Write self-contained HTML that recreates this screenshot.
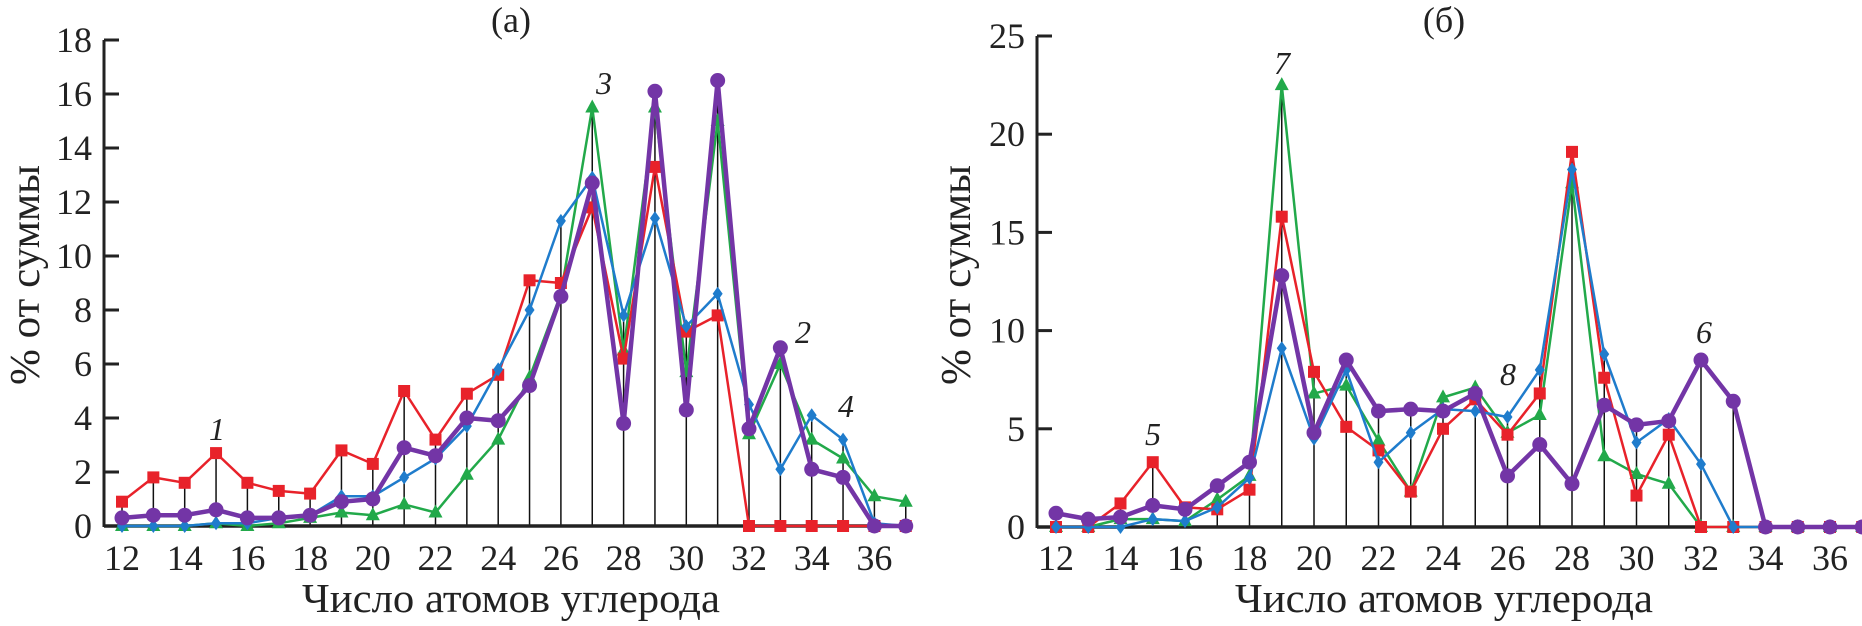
<!DOCTYPE html>
<html><head><meta charset="utf-8"><style>
html,body{margin:0;padding:0;background:#fff;}
svg{display:block;font-family:"Liberation Serif",serif;}
</style></head><body>
<svg id="chart" width="1862" height="626" viewBox="0 0 1862 626" xmlns="http://www.w3.org/2000/svg"></svg>
<script>
const categories = [12,13,14,15,16,17,18,19,20,21,22,23,24,25,26,27,28,29,30,31,32,33,34,35,36,37];
const xTicks = [12,14,16,18,20,22,24,26,28,30,32,34,36];
const aTicks = [0,2,4,6,8,10,12,14,16,18];
const bTicks = [0,5,10,15,20,25];
const aRed = [0.9,1.8,1.6,2.7,1.6,1.3,1.2,2.8,2.3,5.0,3.2,4.9,5.6,9.1,9.0,11.8,6.2,13.3,7.2,7.8,0,0,0,0,0,0];
const aGreen = [0,0,0,0.1,0,0.1,0.3,0.5,0.4,0.8,0.5,1.9,3.2,5.5,8.6,15.5,6.5,15.5,5.7,15.0,3.4,6.0,3.2,2.5,1.1,0.9];
const aBlue = [0,0,0,0.1,0.1,0.3,0.4,1.1,1.1,1.8,2.5,3.7,5.8,8.0,11.3,12.9,7.8,11.4,7.4,8.6,4.5,2.1,4.1,3.2,0.1,0];
const aPurple = [0.3,0.4,0.4,0.6,0.3,0.3,0.4,0.9,1.0,2.9,2.6,4.0,3.9,5.2,8.5,12.7,3.8,16.1,4.3,16.5,3.6,6.6,2.1,1.8,0,0];
const bRed = [0,0,1.2,3.3,1.0,0.9,1.9,15.8,7.9,5.1,3.9,1.8,5.0,6.5,4.7,6.8,19.1,7.6,1.6,4.7,0,0,0,0,0,0];
const bGreen = [0,0,0.4,0.4,0.3,1.4,2.6,22.5,6.8,7.2,4.4,1.8,6.6,7.1,4.8,5.7,17.5,3.6,2.7,2.2,0,0,0,0,0,0];
const bBlue = [0,0,0,0.4,0.3,1.0,2.5,9.1,4.5,8.0,3.3,4.8,6.0,5.9,5.6,8.0,18.2,8.8,4.3,5.5,3.2,0,0,0,0,0];
const bPurple = [0.7,0.4,0.5,1.1,0.9,2.1,3.3,12.8,4.8,8.5,5.9,6.0,5.9,6.8,2.6,4.2,2.2,6.2,5.2,5.4,8.5,6.4,0,0,0,0];

const NS="http://www.w3.org/2000/svg";
const svg=document.getElementById('chart');
function mk(tag,attrs,parent){const e=document.createElementNS(NS,tag);for(const k in attrs)e.setAttribute(k,attrs[k]);(parent||svg).appendChild(e);return e;}

function panel(cfg){
  const g=mk('g',{});
  
  
  const X=v=>cfg.x0+(v-12)*cfg.dx;
  const Y=v=>cfg.y0-v*cfg.dy;
  const ymax=cfg.ticks[cfg.ticks.length-1];
  categories.forEach((c,i)=>{
    const m=Math.max(cfg.series[0][i],cfg.series[1][i],cfg.series[2][i],cfg.series[3][i]);
    if(m>0){const l=mk('line',{x1:X(c),x2:X(c),y1:Y(0),y2:Y(m),stroke:'#111','stroke-width':1.5},g);
    
    }
  });
  const ax=mk('line',{x1:cfg.ax,x2:cfg.ax,y1:Y(ymax),y2:Y(0)+1,stroke:'#222','stroke-width':3},g);
  
  
  cfg.ticks.forEach(t=>{
    mk('line',{x1:cfg.ax,x2:cfg.ax+15,y1:Y(t),y2:Y(t),stroke:'#222','stroke-width':3},g);
    const tx=mk('text',{x:cfg.ax-12,y:Y(t)+12,'text-anchor':'end','font-size':36,fill:'#222'},g);
    tx.textContent=t;
    
    
  });
  xTicks.forEach(t=>{
    const tx=mk('text',{x:X(t),y:570,'text-anchor':'middle','font-size':36,fill:'#222'},g);
    tx.textContent=t;
    
    
  });
  const bl=mk('line',{x1:cfg.ax,x2:cfg.xend,y1:Y(0),y2:Y(0),stroke:'#222','stroke-width':3.5},g);
  
  
  const colors=['#e8222a','#22a94a','#1f7ccc','#7335a6'];
  const widths=[2.5,2.5,2.5,4.5];
  const names=['series-red','series-green','series-blue','series-purple'];
  const order=[1,0,2,3];
  order.forEach(si=>{
    const vals=cfg.series[si];
    const pts=categories.map((c,i)=>X(c)+','+Y(vals[i])).join(' ');
    const pl=mk('polyline',{points:pts,fill:'none',stroke:colors[si],'stroke-width':widths[si],'stroke-linejoin':'round'},g);
    
    
    categories.forEach((c,i)=>{
      const x=X(c),y=Y(vals[i]);let m;
      if(si===0)m=mk('rect',{x:x-6,y:y-6,width:12,height:12,fill:colors[0]},g);
      else if(si===1)m=mk('polygon',{points:`${x},${y-8} ${x-7},${y+5} ${x+7},${y+5}`,fill:colors[1]},g);
      else if(si===2)m=mk('polygon',{points:`${x},${y-7} ${x-5},${y} ${x},${y+7} ${x+5},${y}`,fill:colors[2]},g);
      else m=mk('circle',{cx:x,cy:y,r:7.5,fill:colors[3]},g);
      
      
    });
  });
  const tt=mk('text',{x:cfg.tx,y:32,'text-anchor':'middle','font-size':36,fill:'#222'},g);
  tt.textContent=cfg.title;
  
  
  const xt=mk('text',{x:cfg.tx,y:612,'text-anchor':'middle','font-size':41,fill:'#222',textLength:418,lengthAdjust:'spacingAndGlyphs'},g);
  xt.textContent='Число атомов углерода';
  
  
  const yt=mk('text',{x:0,y:0,'text-anchor':'middle','font-size':42,fill:'#222',textLength:220,lengthAdjust:'spacingAndGlyphs',transform:`translate(${cfg.ytx},275) rotate(-90)`},g);
  yt.textContent='% от суммы';
  
  
  cfg.notes.forEach(n=>{
    const t=mk('text',{x:n[1],y:n[2],'text-anchor':'middle','font-size':32,'font-style':'italic',fill:'#222'},g);
    t.textContent=n[0];
    
    
  });
}
panel({name:'panel-a',x0:122,dx:31.35,y0:526,dy:27.0,ax:104,xend:880,ticks:aTicks,
  series:[aRed,aGreen,aBlue,aPurple],title:'(a)',tx:511,ytx:39,
  notes:[['1',217,440],['3',604,94],['2',803,343],['4',846,417]]});
panel({name:'panel-b',x0:1056,dx:32.25,y0:527,dy:19.64,ax:1037,xend:1695,ticks:bTicks,
  series:[bRed,bGreen,bBlue,bPurple],title:'(б)',tx:1444,ytx:970,
  notes:[['7',1282,74],['5',1153,445],['8',1508,385],['6',1704,343]]});
</script>
</body></html>
